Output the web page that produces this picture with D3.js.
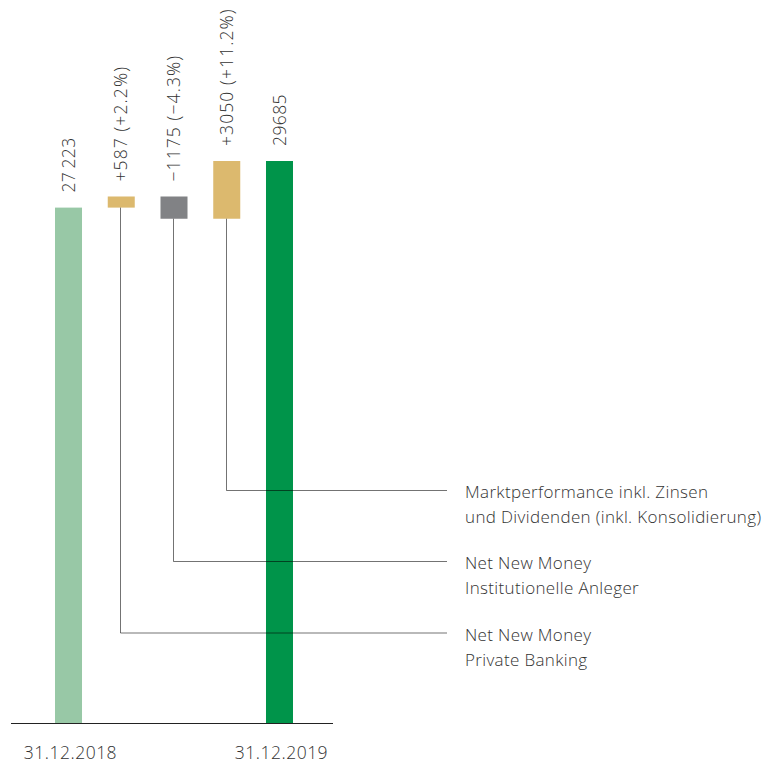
<!DOCTYPE html>
<html>
<head>
<meta charset="utf-8">
<script src="https://cdn.jsdelivr.net/npm/d3@7"></script>
<style>
  html, body { margin: 0; padding: 0; background: #fff; }
  svg { display: block; }
  text { font-family: "Open Sans", "Noto Sans", sans-serif; font-weight: 350; fill: #333; }
</style>
</head>
<body>
<svg id="chart" width="765" height="767"></svg>
<script>
// Vermögensentwicklung 2018 → 2019 (Mio. CHF)
const startValue = 27223;
const endValue = 29685;
const changes = [587, -1175, 3050];
const changePct = [2.2, -4.3, 11.2];
const changeNames = [
  ["Net New Money", "Private Banking"],
  ["Net New Money", "Institutionelle Anleger"],
  ["Marktperformance inkl. Zinsen", "und Dividenden (inkl. Konsolidierung)"]
];
const dateLabels = ["31.12.2018", "31.12.2019"];

const colors = {
  start: "#98c8a6",
  end: "#00944a",
  up: "#dcb96e",
  down: "#818285"
};

const svg = d3.select("#chart");
const baseY = 723;

const y = d3.scaleLinear().domain([0, endValue]).range([baseY, 161]);
const x = d3.scaleBand()
  .domain(d3.range(changes.length + 2))
  .range([55, 293])
  .paddingInner(0.488)
  .paddingOuter(0);

const fmtThousands = v => {
  const s = String(Math.abs(v));
  return s.length > 4 ? s.slice(0, s.length - 3) + "\u2009" + s.slice(-3) : s;
};
const sign = v => (v < 0 ? "\u2212" : "+");

// Build waterfall segments
const bars = [];
bars.push({ i: 0, y0: 0, y1: startValue, color: colors.start, label: fmtThousands(startValue) });
let run = startValue;
changes.forEach((c, k) => {
  const from = run;
  run += c;
  bars.push({
    i: k + 1,
    y0: Math.min(from, run),
    y1: Math.max(from, run),
    color: c < 0 ? colors.down : colors.up,
    label: `${sign(c)}${Math.abs(c)} (${sign(changePct[k])}${Math.abs(changePct[k]).toFixed(1)}%)`,
    change: k
  });
});
bars.push({ i: changes.length + 1, y0: 0, y1: endValue, color: colors.end, label: String(endValue) });

// Bars
svg.append("g").selectAll("rect")
  .data(bars)
  .join("rect")
  .attr("x", d => x(d.i))
  .attr("width", x.bandwidth())
  .attr("y", d => y(d.y1))
  .attr("height", d => y(d.y0) - y(d.y1))
  .attr("fill", d => d.color);

// Value labels, rotated above each bar
svg.append("g").selectAll("text")
  .data(bars)
  .join("text")
  .attr("transform", d => `translate(${x(d.i) + x.bandwidth() / 2},${y(d.y1) - 15}) rotate(-90)`)
  .attr("dy", "0.35em")
  .attr("font-size", 17.5)
  .attr("letter-spacing", d => (d.change !== undefined ? 1.1 : 0.4))
  .text(d => d.label);

// Leader lines to the descriptions
const leaderY = [633, 561.5, 490.5];
const leaderEndX = 447;
const legendX = 465;
const leaders = svg.append("g");
bars.filter(d => d.change !== undefined).forEach(d => {
  const cx = Math.round(x(d.i) + x.bandwidth() / 2) - 0.5;
  const ly = leaderY[d.change];
  leaders.append("path")
    .attr("d", `M${cx},${y(d.y0)}V${ly}H${leaderEndX}`)
    .attr("fill", "none")
    .attr("stroke", "#000")
    .attr("stroke-opacity", 0.55)
    .attr("stroke-width", 1);
  const t = leaders.append("text")
    .attr("x", legendX)
    .attr("y", ly + 7.5)
    .attr("font-size", 17)
    .attr("letter-spacing", 0.35);
  changeNames[d.change].forEach((line, j) => {
    t.append("tspan").attr("x", legendX).attr("dy", j === 0 ? 0 : 25).text(line);
  });
});

// Baseline
svg.append("line")
  .attr("x1", 11).attr("x2", 333)
  .attr("y1", baseY + 0.5).attr("y2", baseY + 0.5)
  .attr("stroke", "#222")
  .attr("stroke-width", 1);

// Date labels under the start and end bars
const dateIdx = [0, changes.length + 1];
svg.append("g").selectAll("text")
  .data(dateLabels)
  .join("text")
  .attr("x", (d, k) => x(dateIdx[k]) + x.bandwidth() / 2 + 2)
  .attr("y", 759)
  .attr("text-anchor", "middle")
  .attr("font-size", 17.5)
  .attr("letter-spacing", 0.5)
  .text(d => d);
</script>
</body>
</html>
